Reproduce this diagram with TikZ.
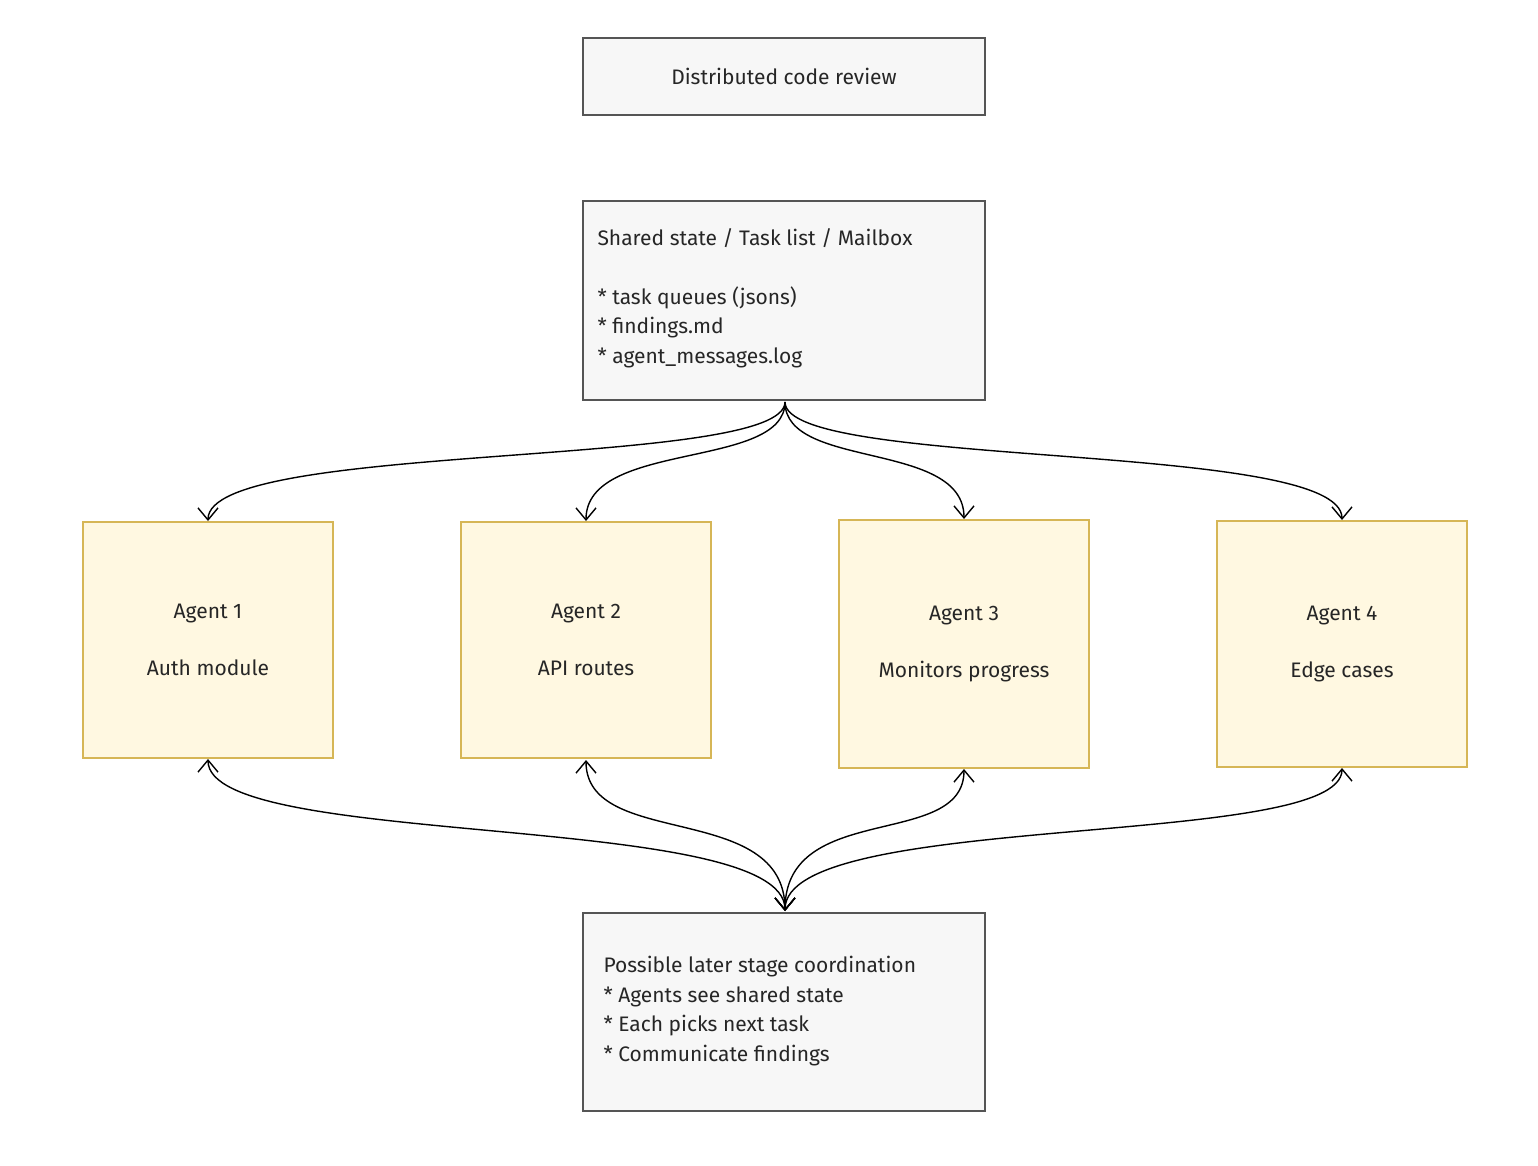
\documentclass[tikz,border=0pt]{standalone}
\usepackage{fontspec}
\setmainfont{Fira Sans}
\usetikzlibrary{arrows.meta}
\definecolor{gborder}{HTML}{555555}
\definecolor{gfill}{HTML}{F7F7F7}
\definecolor{yborder}{HTML}{D6B656}
\definecolor{yfill}{HTML}{FFF8E1}
\tikzset{
  x=1pt,y=-1pt,
  gbox/.style={draw=gborder,fill=gfill,line width=1.3pt,inner sep=0pt},
  ybox/.style={draw=yborder,fill=yfill,line width=1.3pt,inner sep=0pt},
  txt/.style={font=\fontsize{21}{29.5}\selectfont,text=black!85},
  conn/.style={draw=black,line width=1.4pt,-{Straight Barb[length=12pt,width=20pt]}},
  bconn/.style={draw=black,line width=1.4pt,{Straight Barb[length=12pt,width=20pt]}-{Straight Barb[length=12pt,width=20pt]}}
}
\begin{document}
\begin{tikzpicture}
\useasboundingbox (0,0) rectangle (1538,1166);
\path[gbox] (583,38) rectangle (985,115);
\node[txt] (title) at (784,76) {Distributed code review};
\path[gbox] (583,201) rectangle (985,400);
\node[txt,align=left,anchor=north west] (shared) at (594,225) {Shared state / Task list / Mailbox\\[29.5pt]* task queues (jsons)\\* findings.md\\* agent\_messages.log};
\coordinate (sb) at (785,402);
\path[ybox] (83,522) rectangle (333,758);
\node[txt,align=center] (a1) at (208,640) {Agent 1\\[28pt]Auth module};
\path[ybox] (461,522) rectangle (711,758);
\node[txt,align=center] (a2) at (586,640) {Agent 2\\[28pt]API routes};
\path[ybox] (839,520) rectangle (1089,768);
\node[txt,align=center] (a3) at (964,644) {Agent 3\\[28pt]Monitors progress};
\path[ybox] (1217,521) rectangle (1467,767);
\node[txt,align=center] (a4) at (1342,644) {Agent 4\\[28pt]Edge cases};
\path[gbox] (583,913) rectangle (985,1111);
\node[txt,align=left,anchor=north west] (later) at (600,953) {Possible later stage coordination\\* Agents see shared state\\* Each picks next task\\* Communicate findings};
\coordinate (a1t) at (208,521); \coordinate (a2t) at (586,521);
\coordinate (a3t) at (964,519); \coordinate (a4t) at (1342,520);
\coordinate (a1b) at (208,759); \coordinate (a2b) at (586,760);
\coordinate (a3b) at (964,769); \coordinate (a4b) at (1342,768);
\coordinate (bt) at (785,911);
\draw[conn] (sb) .. controls (785,470) and (208,440) .. (a1t);
\draw[conn] (sb) .. controls (785,470) and (586,440) .. (a2t);
\draw[conn] (sb) .. controls (785,470) and (964,440) .. (a3t);
\draw[conn] (sb) .. controls (785,470) and (1342,440) .. (a4t);
\draw[bconn] (a1b) .. controls (208,850) and (785,810) .. (bt);
\draw[bconn] (a2b) .. controls (586,850) and (785,800) .. (bt);
\draw[bconn] (a3b) .. controls (964,850) and (785,800) .. (bt);
\draw[bconn] (a4b) .. controls (1342,850) and (785,810) .. (bt);
\end{tikzpicture}
\end{document}
